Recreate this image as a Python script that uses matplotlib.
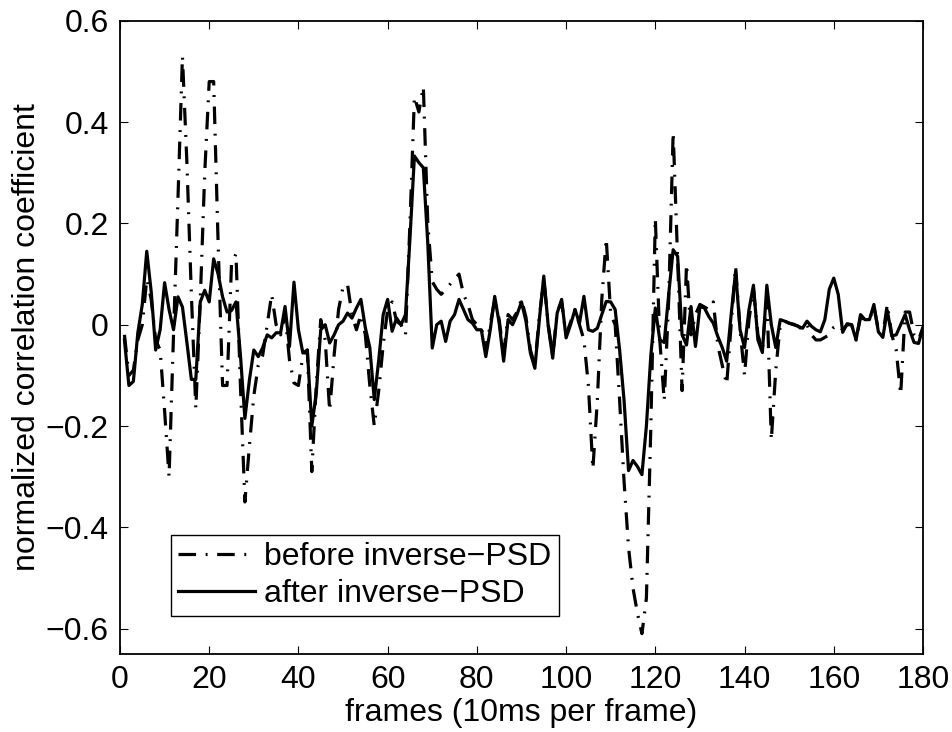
import numpy as np
import matplotlib as m
m.use('Agg')
import matplotlib.pyplot as plt

# frame index 1..180
frames = np.arange(1, 181)

# normalized correlation coefficient, before inverse-PSD (dash-dot)
before = [
    -0.02, -0.10, -0.09, -0.03, 0.00, 0.09, 0.05, -0.03, -0.05, -0.17,
    -0.30, -0.02, 0.25, 0.53, 0.32, 0.06, -0.165, 0.05, 0.30, 0.48,
    0.48, 0.16, -0.12, -0.12, 0.12, 0.14, -0.12, -0.35, -0.24, -0.14,
    -0.08, -0.06, 0.00, 0.06, 0.00, -0.02, 0.02, -0.07, -0.115, -0.12,
    -0.06, -0.05, -0.29, -0.12, 0.01, -0.03, -0.17, -0.06, 0.03, 0.075,
    0.08, 0.02, -0.01, 0.02, -0.02, -0.12, -0.20, -0.13, -0.04, 0.03,
    0.045, 0.007, 0.00, -0.02, 0.20, 0.45, 0.42, 0.47, 0.20, 0.085,
    0.07, 0.06, 0.07, 0.08, 0.09, 0.10, 0.06, 0.04, 0.01, 0.00,
    -0.005, -0.05, 0.00, 0.05, 0.01, -0.06, 0.02, 0.01, 0.025, 0.05,
    0.015, -0.05, -0.08, 0.015, 0.09, 0.00, -0.06, 0.025, 0.045, -0.02,
    0.005, 0.03, 0.00, -0.03, -0.12, -0.285, -0.15, 0.05, 0.17, 0.02,
    0.00, -0.15, -0.31, -0.44, -0.52, -0.57, -0.61, -0.54, -0.20, 0.21,
    -0.03, -0.15, 0.05, 0.38, 0.13, -0.13, 0.12, -0.02, 0.02, 0.04,
    0.035, 0.03, 0.045, -0.04, -0.08, -0.118, 0.00, 0.115, -0.01, -0.10,
    0.01, 0.07, -0.02, -0.05, 0.06, -0.228, -0.09, 0.00, 0.007, 0.003,
    0.00, -0.003, -0.01, 0.00, -0.02, -0.03, -0.03, -0.025, -0.02, -0.005,
    0.00, -0.01, 0.00, 0.00, -0.03, 0.015, 0.01, 0.01, 0.035, -0.01,
    -0.02, 0.04, -0.02, -0.05, -0.138, 0.025, 0.025, -0.02, -0.03, -0.005,
]

# after inverse-PSD (solid)
after = [
    -0.03, -0.12, -0.112, -0.016, 0.04, 0.145, 0.065, -0.05, -0.01, 0.083,
    0.03, -0.01, 0.055, 0.035, -0.035, -0.108, -0.108, 0.045, 0.068, 0.045,
    0.13, 0.10, 0.055, 0.025, 0.028, 0.045, -0.06, -0.185, -0.11, -0.05,
    -0.063, -0.045, -0.02, -0.026, -0.016, -0.016, 0.036, -0.043, 0.084, -0.01,
    -0.056, -0.05, -0.20, -0.135, -0.01, 0.00, -0.036, -0.02, 0.00, 0.007,
    0.023, 0.013, 0.033, 0.05, -0.006, -0.045, -0.148, -0.07, 0.02, 0.05,
    -0.013, 0.013, 0.00, 0.02, 0.17, 0.333, 0.32, 0.31, 0.16, -0.046,
    0.00, 0.007, -0.033, 0.007, 0.02, 0.05, 0.03, 0.01, 0.003, -0.01,
    -0.01, -0.063, -0.01, 0.056, 0.003, -0.072, 0.01, 0.00, 0.02, 0.045,
    0.007, -0.056, -0.086, 0.01, 0.096, -0.003, -0.066, 0.023, 0.05, -0.026,
    0.00, 0.03, 0.003, 0.056, -0.01, -0.013, -0.007, 0.02, 0.046, 0.045,
    0.03, -0.05, -0.15, -0.288, -0.268, -0.28, -0.296, -0.20, -0.06, 0.033,
    -0.03, -0.035, 0.06, 0.148, 0.135, -0.02, -0.04, 0.036, -0.043, 0.036,
    0.033, 0.016, 0.003, -0.023, -0.045, -0.072, 0.02, 0.105, -0.01, -0.045,
    0.03, 0.078, -0.03, -0.055, 0.078, 0.00, -0.045, 0.01, 0.007, 0.003,
    0.001, -0.003, -0.007, 0.007, -0.003, -0.01, -0.014, 0.01, 0.07, 0.092,
    0.06, -0.015, 0.002, 0.00, -0.03, 0.02, 0.01, 0.01, 0.04, -0.014,
    -0.025, 0.028, -0.022, -0.02, 0.00, 0.02, -0.01, -0.035, -0.037, -0.006,
]

xticks = [0, 20, 40, 60, 80, 100, 120, 140, 160, 180]
yticks = [-0.6, -0.4, -0.2, 0, 0.2, 0.4, 0.6]
ytick_labels = ['\u22120.6', '\u22120.4', '\u22120.2', '0', '0.2', '0.4', '0.6']

plt.rcParams['font.family'] = ['Liberation Sans', 'DejaVu Sans']
plt.rcParams['font.size'] = 23

fig = plt.figure(figsize=(9.53, 7.32), dpi=100)
ax = fig.add_axes([0.1259, 0.1066, 0.8426, 0.8650])

ax.plot(frames, before, color='black', linewidth=2.3,
        linestyle=(0, (5.5, 3, 0.6, 3)), label='before inverse\u2212PSD')
ax.plot(frames, after, color='black', linewidth=2.3, linestyle='-',
        label='after inverse\u2212PSD')

ax.set_xlim(0, 180)
ax.set_ylim(-0.65, 0.6)
ax.set_xticks(xticks)
ax.set_yticks(yticks)
ax.set_yticklabels(ytick_labels)
ax.tick_params(direction='in', length=6, width=0.8, top=True, right=True, pad=8)
for s in ax.spines.values():
    s.set_linewidth(1.3)

ax.set_xlabel('frames (10ms per frame)', labelpad=2)
ax.set_ylabel('normalized correlation coefficient', labelpad=3)

leg = ax.legend(loc='lower left', bbox_to_anchor=(0.0635, 0.06),
                borderaxespad=0, fancybox=False, framealpha=1,
                edgecolor='black', handlelength=2.4, handletextpad=0.3,
                borderpad=0.22, labelspacing=0.22)
leg.get_frame().set_linewidth(1.0)

plt.savefig('out.png', dpi=100)
